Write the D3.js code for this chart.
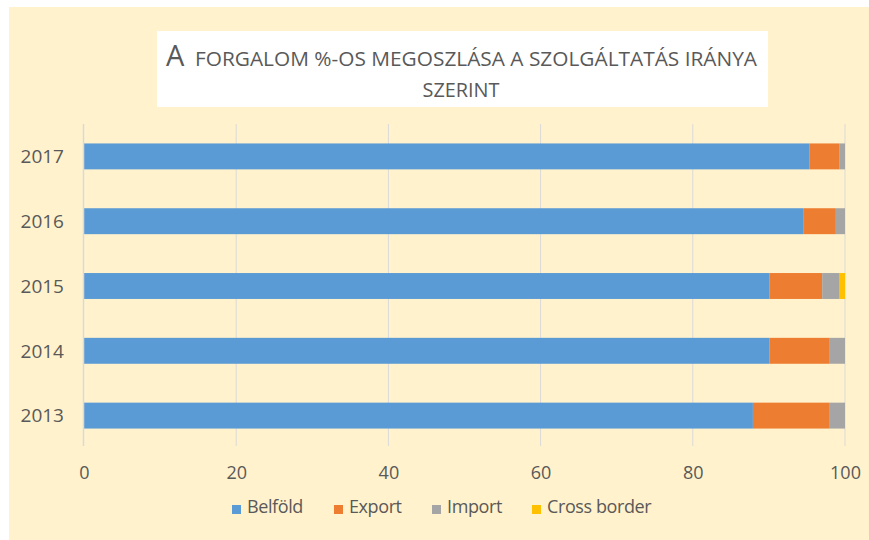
<!DOCTYPE html>
<html>
<head>
<meta charset="utf-8">
<script src="https://cdn.jsdelivr.net/npm/d3@7"></script>
<style>
  body { margin: 0; background: #fff; }
  svg text { font-family: "Open Sans", "DejaVu Sans", sans-serif; fill: #595959; }
</style>
</head>
<body>
<svg class="chart" width="869" height="540"></svg>
<script>
var years = ["2017", "2016", "2015", "2014", "2013"];
var seriesNames = ["Belföld", "Export", "Import", "Cross border"];
var belfold = [95.3, 94.5, 90.1, 90.1, 87.9];
var exportv = [4.0, 4.3, 6.9, 7.9, 10.1];
var importv = [0.7, 1.2, 2.3, 2.0, 2.0];
var crossBorder = [0, 0, 0.7, 0, 0];
var xTicks = [0, 20, 40, 60, 80, 100];
var colors = ["#5b9bd5", "#ed7d31", "#a5a5a5", "#ffc000"];

var svg = d3.select(".chart");

// background
svg.append("rect").attr("x", 9).attr("y", 7).attr("width", 860).attr("height", 533).attr("fill", "#fff2cc");

// title box
svg.append("rect").attr("x", 157).attr("y", 31).attr("width", 611).attr("height", 76).attr("fill", "#ffffff");
var title = svg.append("text").attr("x", 166).attr("y", 66);
title.append("tspan").attr("font-size", 29).text("A");
title.append("tspan").attr("x", 195).attr("font-size", 19.5)
    .attr("textLength", 562).attr("lengthAdjust", "spacingAndGlyphs")
    .text("FORGALOM  %-OS MEGOSZLÁSA  A SZOLGÁLTATÁS   IRÁNYA");
svg.append("text").attr("x", 461).attr("y", 97).attr("text-anchor", "middle")
    .attr("font-size", 19.5).attr("textLength", 77).attr("lengthAdjust", "spacingAndGlyphs")
    .text("SZERINT");

var rows = years.map(function(y, i) {
    return { year: y, vals: [belfold[i], exportv[i], importv[i], crossBorder[i]] };
});

var xScale = d3.scaleLinear().domain([0, 100]).range([84, 845]);
var yScale = d3.scaleBand().domain(years).range([124, 448])
    .paddingInner(0.6).paddingOuter(0.3);

// gridlines
svg.append("g").selectAll("line")
    .data(xTicks.slice(1))
    .enter().append("line")
    .attr("x1", function(d) { return xScale(d); })
    .attr("x2", function(d) { return xScale(d); })
    .attr("y1", 124).attr("y2", 446)
    .attr("stroke", "#d9d9d9").attr("stroke-width", 1);

// bars
var stackData = rows.map(function(r) {
    var acc = 0;
    return r.vals.map(function(v, k) {
        var s = { year: r.year, x0: acc, x1: acc + v, k: k };
        acc += v;
        return s;
    });
});

svg.append("g").selectAll("g")
    .data(stackData)
    .enter().append("g")
    .selectAll("rect")
    .data(function(d) { return d.filter(function(s) { return s.x1 > s.x0; }); })
    .enter().append("rect")
    .attr("x", function(d) { return xScale(d.x0); })
    .attr("width", function(d) { return xScale(d.x1) - xScale(d.x0); })
    .attr("y", function(d) { return yScale(d.year); })
    .attr("height", yScale.bandwidth())
    .attr("fill", function(d) { return colors[d.k]; });

// left axis line
svg.append("line").attr("x1", 83.5).attr("x2", 83.5).attr("y1", 124).attr("y2", 446)
    .attr("stroke", "#d9d9d9").attr("stroke-width", 1.5);

// y labels
var yAxis = svg.append("g")
    .attr("transform", "translate(64,0)")
    .call(d3.axisLeft(yScale).tickSize(0).tickPadding(0));
yAxis.select(".domain").remove();
yAxis.selectAll("text").attr("font-size", 19).attr("font-family", null).attr("fill", "#595959")
    .attr("dy", "0.36em");

// x labels
var xAxis = svg.append("g")
    .attr("transform", "translate(0,466)")
    .call(d3.axisBottom(xScale).tickValues(xTicks).tickSize(0).tickPadding(0));
xAxis.select(".domain").remove();
xAxis.selectAll("text").attr("font-size", 18).attr("font-family", null).attr("fill", "#595959");

// legend
var legendX = [232, 334, 432, 532];
var legend = svg.append("g").selectAll("g")
    .data(seriesNames)
    .enter().append("g")
    .attr("transform", function(d, i) { return "translate(" + legendX[i] + ",505)"; });
legend.append("rect").attr("width", 9).attr("height", 9)
    .attr("fill", function(d, i) { return colors[i]; });
legend.append("text").attr("x", 15).attr("y", 8).attr("font-size", 18)
    .style("letter-spacing", "-0.4px")
    .text(function(d) { return d; });
</script>
</body>
</html>
